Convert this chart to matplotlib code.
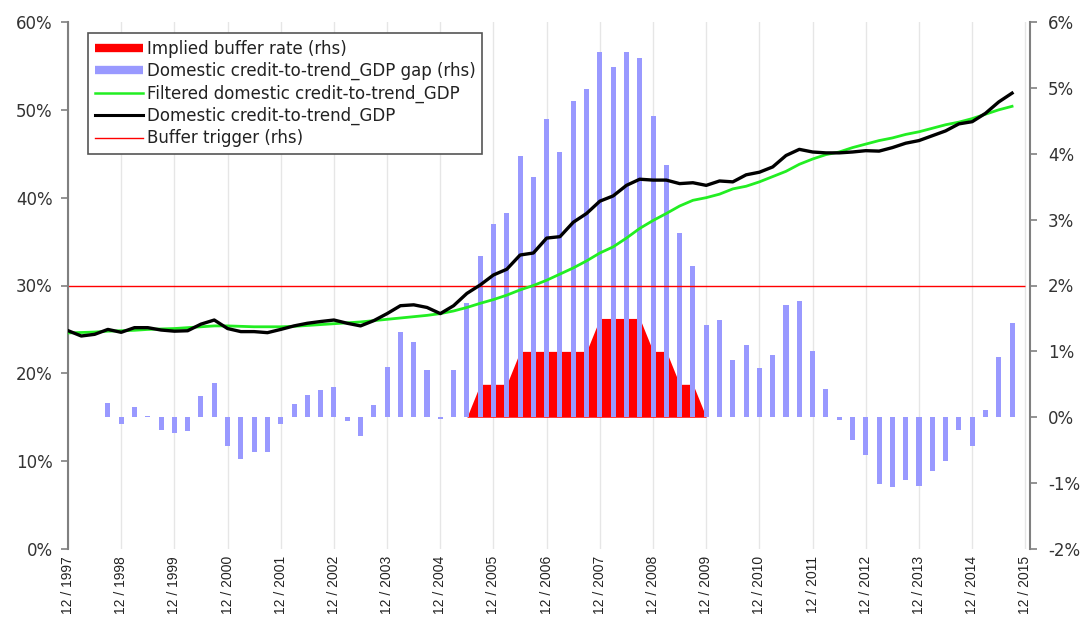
import matplotlib
matplotlib.use("Agg")
import matplotlib.pyplot as plt
import numpy as np
from matplotlib.lines import Line2D

# quarterly observations, 12/1997 .. 9/2015
credit_gdp = [24.86, 24.25, 24.44, 25.0, 24.67, 25.2, 25.2, 24.93, 24.8, 24.85,
              25.6, 26.07, 25.1, 24.75, 24.75, 24.63, 25.0, 25.4, 25.7, 25.9,
              26.07, 25.7, 25.4, 26.0, 26.8, 27.7, 27.8, 27.5, 26.8, 27.7,
              29.1, 30.06, 31.2, 31.85, 33.47, 33.7, 35.4, 35.56, 37.2, 38.2,
              39.6, 40.2, 41.4, 42.1, 42.0, 42.0, 41.6, 41.7, 41.4, 41.9,
              41.8, 42.6, 42.9, 43.5, 44.8, 45.5, 45.2, 45.1, 45.1, 45.2,
              45.35, 45.3, 45.7, 46.2, 46.5, 47.05, 47.6, 48.4, 48.65, 49.6,
              50.9, 51.9]

filtered_gdp = [24.6, 24.65, 24.7, 24.8, 24.85, 24.9, 25.0, 25.05, 25.1, 25.2,
                25.3, 25.4, 25.4, 25.35, 25.3, 25.3, 25.3, 25.35, 25.45, 25.55,
                25.65, 25.75, 25.85, 26.0, 26.15, 26.3, 26.45, 26.6, 26.8, 27.1,
                27.5, 27.97, 28.4, 28.9, 29.5, 30.0, 30.6, 31.3, 32.0, 32.8,
                33.7, 34.4, 35.4, 36.5, 37.4, 38.2, 39.05, 39.7, 40.0, 40.4,
                41.0, 41.3, 41.8, 42.4, 43.0, 43.8, 44.4, 44.9, 45.2, 45.7,
                46.1, 46.5, 46.8, 47.2, 47.5, 47.9, 48.3, 48.6, 49.0, 49.5,
                50.0, 50.4]

gap = [np.nan, np.nan, np.nan, 0.22, -0.11, 0.15, 0.02, -0.20, -0.24, -0.21,
       0.32, 0.52, -0.43, -0.63, -0.52, -0.52, -0.11, 0.20, 0.34, 0.42,
       0.46, -0.05, -0.28, 0.19, 0.77, 1.30, 1.14, 0.71, -0.02, 0.71,
       1.73, 2.45, 2.94, 3.10, 3.97, 3.65, 4.52, 4.02, 4.80, 4.98,
       5.55, 5.31, 5.55, 5.45, 4.57, 3.83, 2.79, 2.29, 1.40, 1.47,
       0.87, 1.10, 0.75, 0.94, 1.70, 1.77, 1.01, 0.43, -0.04, -0.34,
       -0.57, -1.01, -1.06, -0.96, -1.05, -0.82, -0.66, -0.19, -0.43, 0.11,
       0.91, 1.43]

buffer_rate = [0, 0, 0, 0, 0, 0, 0, 0, 0, 0,
               0, 0, 0, 0, 0, 0, 0, 0, 0, 0,
               0, 0, 0, 0, 0, 0, 0, 0, 0, 0,
               0, 0.5, 0.5, 0.5, 1.0, 1.0, 1.0, 1.0, 1.0, 1.0,
               1.5, 1.5, 1.5, 1.5, 1.0, 1.0, 0.5, 0.5, 0, 0,
               0, 0, 0, 0, 0, 0, 0, 0, 0, 0,
               0, 0, 0, 0, 0, 0, 0, 0, 0, 0,
               0, 0]

buffer_trigger = 2.0

tick_labels = ["12 / 1997", "12 / 1998", "12 / 1999", "12 / 2000", "12 / 2001",
               "12 / 2002", "12 / 2003", "12 / 2004", "12 / 2005", "12 / 2006",
               "12 / 2007", "12 / 2008", "12 / 2009", "12 / 2010", "12 / 2011",
               "12 / 2012", "12 / 2013", "12 / 2014", "12 / 2015"]

left_ticks = [0, 10, 20, 30, 40, 50, 60]
right_ticks = [-2, -1, 0, 1, 2, 3, 4, 5, 6]

plt.rcParams['font.family'] = 'DejaVu Sans'
TXT = '#333333'
SPINE = '#808080'

x = np.arange(len(credit_gdp))
tick_pos = np.arange(len(tick_labels)) * 4

fig = plt.figure(figsize=(10.91, 6.19), dpi=100)
ax_r = fig.add_axes([68 / 1091, 1 - 549 / 619, (1030 - 68) / 1091, (549 - 22) / 619])
ax_l = ax_r.twinx()
ax_l.yaxis.tick_left()
ax_r.yaxis.tick_right()

# rhs series (drawn underneath)
ax_r.fill_between(x, 0, buffer_rate, color='#ff0000', lw=0, zorder=1)
ax_r.bar(x, gap, width=0.38, color='#9999ff', zorder=2)
ax_r.hlines(buffer_trigger, tick_pos[0], tick_pos[-1], color='#ff0000', lw=1.0, zorder=3)

# lhs lines (on top)
ax_l.plot(x, filtered_gdp, color='#22ee22', lw=2.0, zorder=4)
ax_l.plot(x, credit_gdp, color='black', lw=2.4, zorder=5)

ax_r.set_xlim(0, 72.35)
ax_r.set_ylim(-2, 6)
ax_l.set_ylim(0, 60)

ax_r.set_xticks(tick_pos)
ax_r.set_xticklabels(tick_labels, rotation=90, fontsize=10, color='#222222',
                     family=['Liberation Sans', 'DejaVu Sans'])
ax_r.tick_params(axis='x', length=0, pad=5)
ax_r.grid(axis='x', color='#e6e6e6', lw=1.0)
ax_r.set_axisbelow(True)

ax_r.set_yticks(right_ticks)
ax_r.set_yticklabels([f"{t}%" for t in right_ticks], fontsize=12, color=TXT)
ax_r.tick_params(axis='y', direction='out', length=5, width=1.2, color=SPINE, pad=8)

ax_l.set_yticks(left_ticks)
ax_l.set_yticklabels([f"{t}%" for t in left_ticks], fontsize=12, color=TXT)
ax_l.tick_params(axis='y', direction='out', length=5, width=1.2, color=SPINE, pad=6)

for name in ['top', 'bottom', 'left']:
    ax_r.spines[name].set_visible(False)
for name in ['top', 'bottom', 'right']:
    ax_l.spines[name].set_visible(False)
ax_r.spines['right'].set_color(SPINE)
ax_r.spines['right'].set_linewidth(1.5)
ax_l.spines['left'].set_color(SPINE)
ax_l.spines['left'].set_linewidth(1.5)

handles = [
    Line2D([], [], color='#ff0000', lw=6, solid_capstyle='butt'),
    Line2D([], [], color='#9999ff', lw=6, solid_capstyle='butt'),
    Line2D([], [], color='#22ee22', lw=1.8),
    Line2D([], [], color='black', lw=2.2),
    Line2D([], [], color='#ff0000', lw=1.0),
]
labels = ["Implied buffer rate (rhs)",
          "Domestic credit-to-trend_GDP gap (rhs)",
          "Filtered domestic credit-to-trend_GDP",
          "Domestic credit-to-trend_GDP",
          "Buffer trigger (rhs)"]
leg = ax_l.legend(handles, labels, loc='upper left', bbox_to_anchor=(0.021, 0.9786),
                  borderaxespad=0, fontsize=12, frameon=True, fancybox=False,
                  framealpha=1, edgecolor='#555555', handlelength=2.9,
                  handletextpad=0.2, labelspacing=0.25, borderpad=0.4)
leg.get_frame().set_linewidth(1.2)
for t in leg.get_texts():
    t.set_color('#222222')

fig.savefig('out.png', dpi=100)
